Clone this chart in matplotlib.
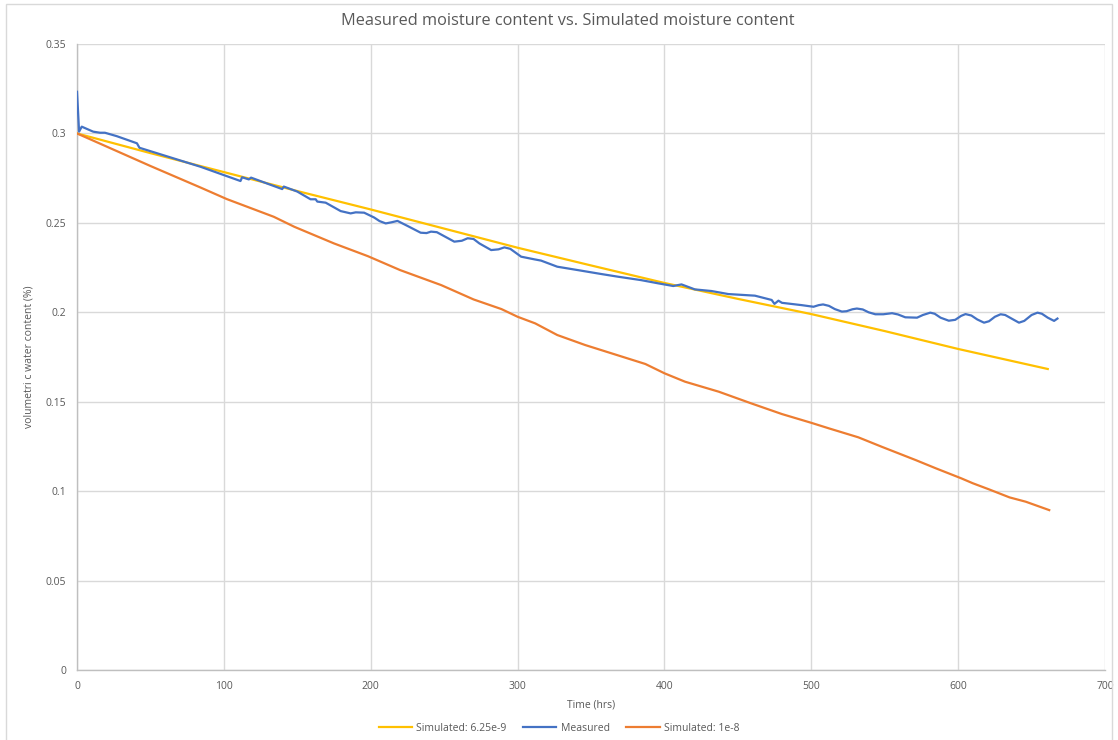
import matplotlib.pyplot as plt
from matplotlib.patches import Rectangle

plt.rcParams['font.family'] = ['Open Sans', 'DejaVu Sans']

# Simulated, D = 6.25e-9
t_sim_a = [0, 50, 100, 150, 200, 250, 300, 350, 400, 450, 500, 550, 600, 661]
w_sim_a = [0.300, 0.2890, 0.2784, 0.2678, 0.2575, 0.2468, 0.2361, 0.2262, 0.2164, 0.2075, 0.1990, 0.1895, 0.1795, 0.1683]

# Simulated, D = 1e-8
t_sim_b = [0, 50, 84, 102, 134, 148, 175, 198, 220, 248, 270, 289, 300, 312, 327,
           346, 375, 387, 400, 414, 437, 459, 480, 500, 512, 532, 548, 571, 585,
           602, 610, 621, 635, 646, 662]
w_sim_b = [0.300, 0.2818, 0.2698, 0.2633, 0.2534, 0.2478, 0.2385, 0.2314, 0.2236, 0.2152,
           0.2072, 0.2018, 0.1975, 0.1938, 0.1873, 0.1817, 0.1742, 0.1711, 0.1659, 0.1612,
           0.1556, 0.1491, 0.1431, 0.1382, 0.1351, 0.1301, 0.1248, 0.1174, 0.1127, 0.1072,
           0.1044, 0.1010, 0.0965, 0.0941, 0.0894]

# Measured sensor readings
t_meas = [0, 1.4, 3.2, 11, 15.7, 19, 27, 40.8, 42.5, 84, 111.3, 112.4, 117, 118.5,
          139.7, 140.8, 150, 159, 162.5, 163.6, 169.3, 179.5, 186.3, 189.8, 195.5,
          202.3, 206, 210.2, 214, 218.2, 225, 234, 238, 241, 245, 256.9, 262, 266, 270,
          274, 282, 287, 291, 295, 302.4, 311.5, 316, 327, 341, 357, 368.4, 384, 395.7,
          406, 411.6, 420.7, 432, 443.5, 461.6, 473, 474.9, 477.6, 480, 493.5, 497,
          501.5, 505, 508, 512, 516, 520.8, 524, 528, 531, 535, 539, 543.6, 549, 555,
          559, 564, 572, 576, 581, 584, 588, 593.6, 598, 602, 605, 609, 613, 617.6,
          621, 625, 628.9, 632, 637, 641.4, 645, 650, 654, 657, 661, 665.3, 667.6]
w_meas = [0.3233, 0.3010, 0.3038, 0.3010, 0.3004, 0.3004, 0.2985, 0.2945, 0.2920, 0.2814,
          0.2734, 0.2755, 0.2743, 0.2753, 0.2689, 0.2703, 0.2675, 0.2632, 0.2632, 0.2619,
          0.2613, 0.2566, 0.2553, 0.2559, 0.2557, 0.2530, 0.2510, 0.2497, 0.2503, 0.2511,
          0.2483, 0.2445, 0.2443, 0.2451, 0.2448, 0.2395, 0.2400, 0.2414, 0.2410, 0.2385,
          0.2348, 0.2352, 0.2363, 0.2355, 0.2311, 0.2296, 0.2289, 0.2255, 0.2236, 0.2214,
          0.2199, 0.2180, 0.2162, 0.2147, 0.2156, 0.2128, 0.2119, 0.2102, 0.2093, 0.2069,
          0.2047, 0.2065, 0.2053, 0.2040, 0.2036, 0.2031, 0.2040, 0.2044, 0.2036, 0.2018,
          0.2004, 0.2006, 0.2017, 0.2021, 0.2016, 0.2000, 0.1989, 0.1989, 0.1995, 0.1988,
          0.1972, 0.1970, 0.1985, 0.1998, 0.1992, 0.1970, 0.1953, 0.1958, 0.1980, 0.1990,
          0.1982, 0.1960, 0.1942, 0.1950, 0.1975, 0.1989, 0.1985, 0.1962, 0.1942, 0.1952,
          0.1985, 0.1998, 0.1992, 0.1970, 0.1952, 0.1965]

x_ticks = [0, 100, 200, 300, 400, 500, 600, 700]
y_ticks = [0, 0.05, 0.1, 0.15, 0.2, 0.25, 0.3, 0.35]
y_labels = ['0', '0.05', '0.1', '0.15', '0.2', '0.25', '0.3', '0.35']

text_grey = '#595959'
grid_grey = '#d9d9d9'

fig = plt.figure(figsize=(11.18, 7.40), dpi=100)
fig.patches.append(Rectangle((0.005, -0.01), 0.99, 1.005, transform=fig.transFigure,
                             fill=False, edgecolor='#d9d9d9', linewidth=1))
ax = fig.add_axes([0.0689, 0.0946, 0.9195, 0.8459])

ax.plot(t_sim_a, w_sim_a, color='#FFC000', lw=1.6, label='Simulated: 6.25e-9', zorder=3)
ax.plot(t_meas, w_meas, color='#4472C4', lw=1.6, label='Measured', zorder=4)
ax.plot(t_sim_b, w_sim_b, color='#ED7D31', lw=1.6, label='Simulated: 1e-8', zorder=3)

ax.set_xlim(0, 700)
ax.set_ylim(0, 0.35)
ax.set_xticks(x_ticks)
ax.set_yticks(y_ticks)
ax.set_yticklabels(y_labels)
ax.tick_params(length=0, labelsize=7.5, colors=text_grey, pad=8)
ax.grid(True, color=grid_grey, lw=1)
ax.set_axisbelow(True)
for side in ['top', 'right']:
    ax.spines[side].set_visible(False)
for side in ['left', 'bottom']:
    ax.spines[side].set_color('#bfbfbf')
    ax.spines[side].set_linewidth(1)

# chart title is centred on the whole chart area, not the plot area
fig.text(0.508, 0.972, 'Measured moisture content vs. Simulated moisture content',
         fontsize=11.8, color=text_grey, ha='center', va='center')
ax.set_xlabel('Time (hrs)', fontsize=7.5, color=text_grey, labelpad=5)
ax.set_ylabel('volumetri c water content (%)', fontsize=7.5, color=text_grey, labelpad=8)

fig.legend(loc='center', bbox_to_anchor=(0.5, 0.016), ncol=3, frameon=False,
           fontsize=7.5, labelcolor=text_grey, handlelength=3.2, columnspacing=1.6,
           handletextpad=0.4)

fig.savefig('out.png', dpi=100)
